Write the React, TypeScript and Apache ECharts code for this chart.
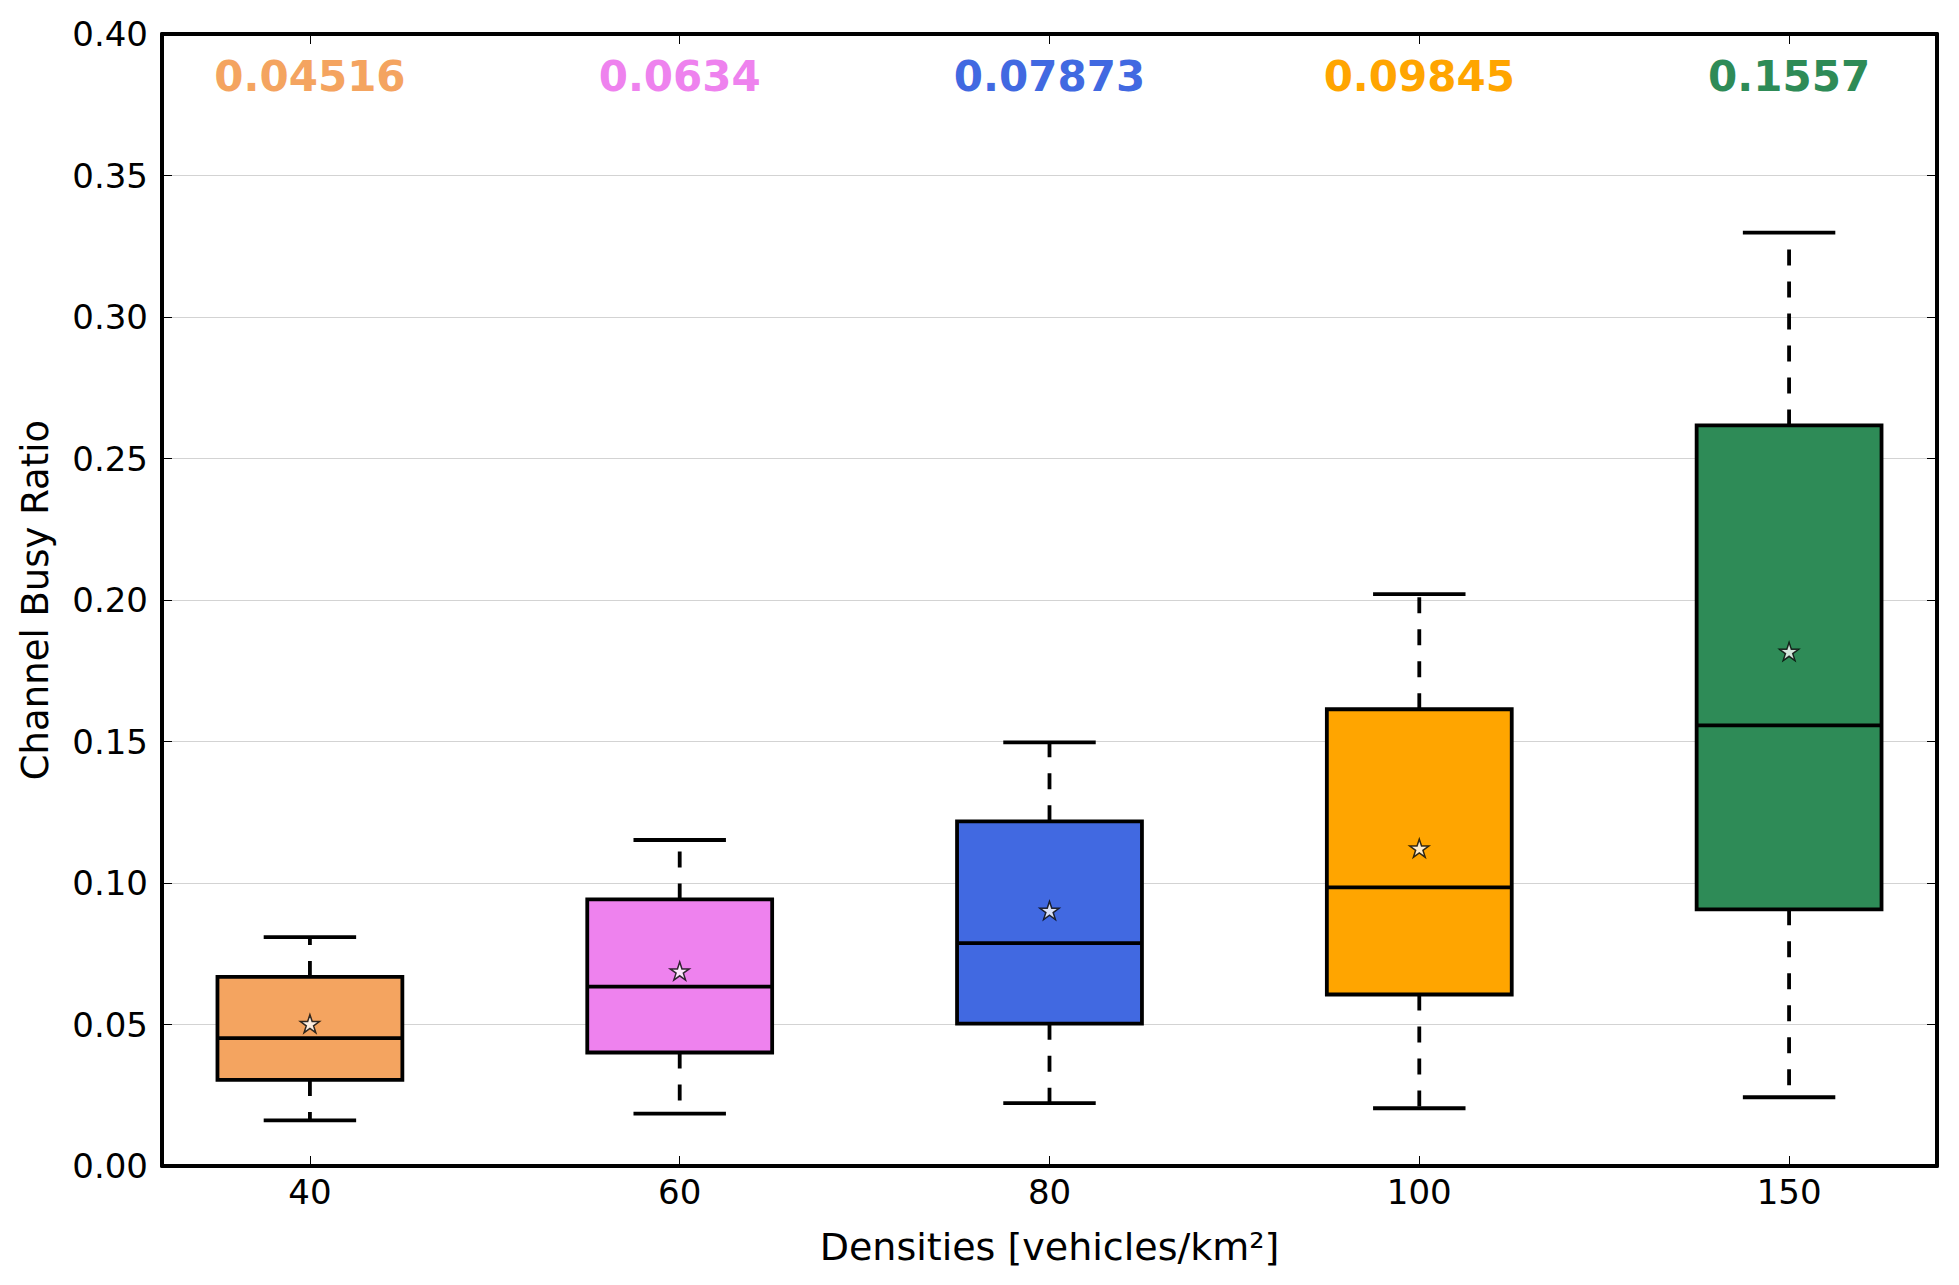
import React, { useEffect, useRef } from "react";
import * as echarts from "echarts";

// ---- data ----
const categories = ["40", "60", "80", "100", "150"];
const positions = [1, 2, 3, 4, 5];
const whiskerLow = [0.0161, 0.0185, 0.0222, 0.0204, 0.0243];
const q1 = [0.0304, 0.0401, 0.0503, 0.0606, 0.0907];
const medians = [0.04516, 0.0634, 0.07873, 0.09845, 0.1557];
const q3 = [0.0668, 0.0942, 0.1218, 0.1614, 0.2617];
const whiskerHigh = [0.0809, 0.1152, 0.1497, 0.2021, 0.3298];
const means = [0.0503, 0.0689, 0.0903, 0.1123, 0.1818];
const boxColors = ["#F4A460", "#EE82EE", "#4169E1", "#FFA500", "#2E8B57"];

// ---- layout constants ----
const BOX_HALF = 0.25;
const CAP_HALF = 0.125;
const LABEL_Y = 0.385;
const LW = 3.8;
const FONT = "DejaVu Sans";
const STAR =
  "path://M0,-10 L2.245,-3.09 L9.511,-3.09 L3.633,1.18 L5.878,8.09 L0,3.82 L-5.878,8.09 L-3.633,1.18 L-9.511,-3.09 L-2.245,-3.09 Z";

export default function App() {
  const ref = useRef<HTMLDivElement>(null);

  useEffect(() => {
    if (!ref.current) return;
    const chart = echarts.init(ref.current, null, { renderer: "svg" });

    const boxData = positions.map((p, i) => [
      p,
      whiskerLow[i],
      q1[i],
      medians[i],
      q3[i],
      whiskerHigh[i],
    ]);

    const renderItem = (params: any, api: any) => {
      const i = params.dataIndex;
      const x = api.value(0);
      const lo = api.value(1);
      const b1 = api.value(2);
      const med = api.value(3);
      const b3 = api.value(4);
      const hi = api.value(5);
      const c = (xx: number, yy: number) => api.coord([xx, yy]);
      const color = boxColors[i];
      const line = (a: number[], b: number[], dash?: number[]) => ({
        type: "line",
        shape: { x1: a[0], y1: a[1], x2: b[0], y2: b[1] },
        style: { stroke: "#000", lineWidth: LW, lineDash: dash, lineCap: "butt" },
      });
      const tl = c(x - BOX_HALF, b3);
      const br = c(x + BOX_HALF, b1);
      const lp = c(x, LABEL_Y);
      return {
        type: "group",
        children: [
          line(c(x, b1), c(x, lo), [16, 16]),
          line(c(x, b3), c(x, hi), [16, 16]),
          line(c(x - CAP_HALF, lo), c(x + CAP_HALF, lo)),
          line(c(x - CAP_HALF, hi), c(x + CAP_HALF, hi)),
          {
            type: "rect",
            shape: { x: tl[0], y: tl[1], width: br[0] - tl[0], height: br[1] - tl[1] },
            style: { fill: color, stroke: "#000", lineWidth: LW },
          },
          line(c(x - BOX_HALF, med), c(x + BOX_HALF, med)),
          {
            type: "text",
            x: lp[0],
            y: lp[1],
            style: {
              text: String(medians[i]),
              fill: color,
              fontSize: 42,
              fontWeight: "bold",
              fontFamily: FONT,
              align: "center",
              verticalAlign: "middle",
            },
          },
        ],
      };
    };

    const tickStyle = { show: true, inside: true, length: 10, lineStyle: { color: "#000", width: 1 } };
    const axisLine = { show: true, onZero: false, lineStyle: { color: "#000", width: 4 } };

    chart.setOption({
      animation: false,
      backgroundColor: "#fff",
      grid: { left: 162, right: 22, top: 34, bottom: 119, containLabel: false },
      xAxis: [
        {
          type: "value",
          min: 0.6,
          max: 5.4,
          position: "bottom",
          axisLine,
          axisTick: { ...tickStyle, customValues: positions },
          axisLabel: {
            customValues: positions,
            formatter: (v: number) => categories[Math.round(v) - 1] ?? "",
            fontSize: 34,
            fontFamily: FONT,
            color: "#000",
            margin: 9,
          },
          splitLine: { show: false },
          name: "Densities [vehicles/km²]",
          nameLocation: "middle",
          nameGap: 62,
          nameTextStyle: { fontSize: 38, fontFamily: FONT, color: "#000" },
        },
        {
          type: "value",
          min: 0.6,
          max: 5.4,
          position: "top",
          axisLine,
          axisTick: { ...tickStyle, customValues: positions },
          axisLabel: { show: false, customValues: positions },
          splitLine: { show: false },
        },
      ],
      yAxis: [
        {
          type: "value",
          min: 0,
          max: 0.4,
          interval: 0.05,
          position: "left",
          axisLine,
          axisTick: tickStyle,
          axisLabel: {
            formatter: (v: number) => v.toFixed(2),
            fontSize: 34,
            fontFamily: FONT,
            color: "#000",
            margin: 14,
          },
          splitLine: { show: true, lineStyle: { color: "#d3d3d3", width: 1 } },
          name: "Channel Busy Ratio",
          nameLocation: "middle",
          nameGap: 108,
          nameTextStyle: { fontSize: 37, fontFamily: FONT, color: "#000" },
        },
        {
          type: "value",
          min: 0,
          max: 0.4,
          interval: 0.05,
          position: "right",
          axisLine,
          axisTick: tickStyle,
          axisLabel: { show: false },
          splitLine: { show: false },
        },
      ],
      series: [
        {
          type: "custom",
          name: "boxes",
          xAxisIndex: 0,
          yAxisIndex: 0,
          data: boxData,
          encode: { x: 0, y: [1, 2, 3, 4, 5] },
          renderItem,
          z: 2,
        },
        {
          type: "scatter",
          name: "mean",
          xAxisIndex: 0,
          yAxisIndex: 0,
          data: positions.map((p, i) => [p, means[i]]),
          symbol: STAR,
          symbolSize: 19,
          symbolKeepAspect: true,
          itemStyle: { color: "#fff", borderColor: "#000", borderWidth: 1.5 },
          z: 5,
        },
      ],
    });

    return () => chart.dispose();
  }, []);

  return (
    <div
      ref={ref}
      style={{ position: "fixed", left: 0, top: 0, width: 1959, height: 1285, background: "#fff" }}
    />
  );
}
